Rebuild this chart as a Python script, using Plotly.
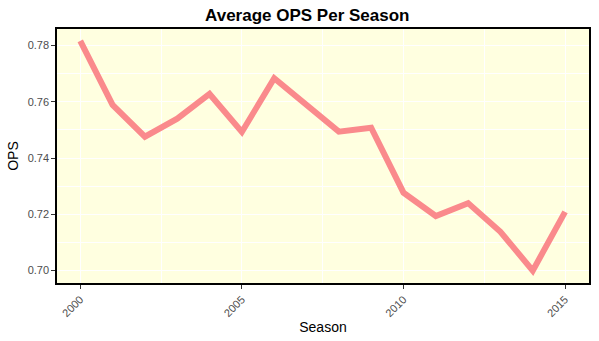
import plotly.graph_objects as go

seasons = list(range(2000, 2016))
ops = [0.7817, 0.7589, 0.7476, 0.7540, 0.7628, 0.7493, 0.7684, 0.7590,
       0.7494, 0.7508, 0.7277, 0.7194, 0.7240, 0.7138, 0.7000, 0.7209]
x_ticks = [2000, 2005, 2010, 2015]
y_ticks = [0.70, 0.72, 0.74, 0.76, 0.78]

fig = go.Figure()
fig.add_trace(go.Scatter(x=seasons, y=ops, mode="lines",
                         line=dict(color="#FA8A8C", width=6),
                         showlegend=False))

axis_common = dict(
    showline=True, linecolor="black", linewidth=1.5, mirror=True,
    ticks="outside", tickcolor="#333333", ticklen=4, tickwidth=1,
    showgrid=True, gridcolor="white", gridwidth=1.2, zeroline=False,
    tickfont=dict(family="Liberation Sans, Arial, sans-serif", size=11, color="#4D4D4D"),
)

fig.update_layout(
    width=599, height=341,
    margin=dict(l=57, r=8, t=29, b=58),
    paper_bgcolor="white", plot_bgcolor="#FFFFE0",
    title=dict(text="<b>Average OPS Per Season</b>", x=0.513, xanchor="center",
               y=0.955, yanchor="middle",
               font=dict(family="Liberation Sans, Arial, sans-serif", size=17, color="black")),
    xaxis=dict(range=[1999.28, 2015.74], tickvals=x_ticks, ticktext=[str(t) for t in x_ticks],
               tickangle=-45,
               minor=dict(dtick=2.5, tick0=2000, showgrid=True, gridcolor="white", gridwidth=0.6, ticks=""),
               title=dict(text="Season", standoff=4,
                          font=dict(family="Liberation Sans, Arial, sans-serif", size=14, color="black")),
               **axis_common),
    yaxis=dict(range=[0.6956, 0.7859], tickvals=y_ticks, ticktext=[f"{t:.2f}" for t in y_ticks],
               minor=dict(dtick=0.01, tick0=0.70, showgrid=True, gridcolor="white", gridwidth=0.6, ticks=""),
               title=dict(text="OPS", standoff=6,
                          font=dict(family="Liberation Sans, Arial, sans-serif", size=14, color="black")),
               **axis_common),
)

fig.write_html("out.html")
